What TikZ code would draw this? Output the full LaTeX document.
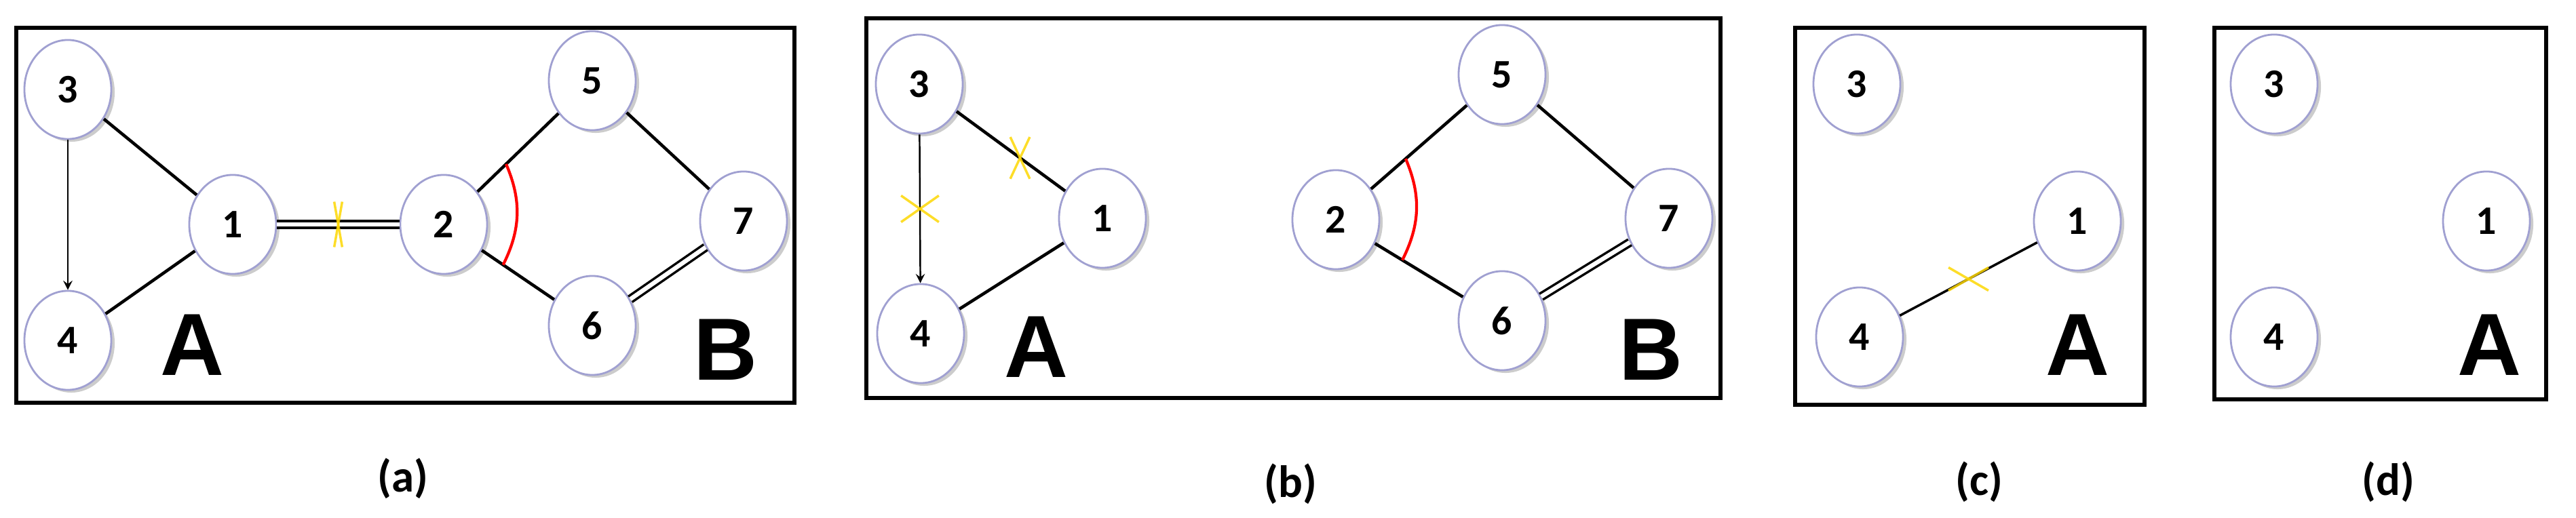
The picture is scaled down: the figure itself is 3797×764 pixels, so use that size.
\documentclass[tikz,border=0pt]{standalone}
\usepackage{fontspec}
\setmainfont{Carlito}
\newfontfamily\grpfont{Liberation Sans}
\usetikzlibrary{shadows,calc,shapes.geometric}

\tikzset{
    vtx/.style={ellipse, draw=blue!35!gray!55, line width=0.8pt, fill=white,
        minimum width=1.28cm, minimum height=1.46cm, inner sep=0pt,
        font=\bfseries\fontsize{17}{17}\selectfont,
        drop shadow={shadow xshift=0.05cm, shadow yshift=-0.04cm, opacity=0.4}},
    edge/.style={line width=1.3pt, black},
    bond/.style={line width=1pt, black, double, double distance=1.8pt},
    panel/.style={line width=1.6pt, black},
    grp/.style={font=\grpfont\bfseries\fontsize{37}{37}\selectfont},
    sublabel/.style={font=\rmfamily\bfseries\fontsize{19}{19}\selectfont},
    arc/.style={red, line width=1.2pt},
    cut/.style={yellow!75!orange, line width=1pt, opacity=0.85}
}
\newcommand{\cutmark}[2]{% position, spread angle
    \draw[cut] ($(#1)+(90-#2:34)$) -- ($(#1)+(270-#2:34)$);
    \draw[cut] ($(#1)+(90+#2:34)$) -- ($(#1)+(270+#2:34)$);
}

\begin{document}
\begin{tikzpicture}[x=0.01cm, y=-0.01cm]
    \useasboundingbox (0,0) rectangle (3797,764);

    % Panel (a)
    \draw[panel] (24,41) rectangle (1171,594);
    \node[vtx] (a3) at (100,132) {3};
    \node[vtx] (a1) at (343,331) {1};
    \node[vtx] (a4) at (100,502) {4};
    \node[vtx] (a2) at (654,331) {2};
    \node[vtx] (a5) at (873,119) {5};
    \node[vtx] (a7) at (1096,326) {7};
    \node[vtx] (a6) at (873,480) {6};
    \node[grp] (aA) at (283,509) {A};
    \node[grp] (aB) at (1069,516) {B};
    \node[sublabel] (acap) at (594,706) {(a)};
    \draw[edge] (a3) -- (a1);
    \draw[edge] (a1) -- (a4);
    \draw[->, >=stealth, line width=0.7pt] (a3) -- (a4);
    \draw[bond] (a1) -- (a2);
    \draw[edge] (a2) -- (a5);
    \draw[edge] (a5) -- (a7);
    \draw[edge] (a2) -- (a6);
    \draw[bond] (a6) -- (a7);
    \coordinate (acut) at ($(a1)!0.5!(a2)$);
    \cutmark{acut}{10}
    \draw[arc] ($(a2)!0.42!(a5)$) to[bend left=25] ($(a2)!0.4!(a6)$);

    % Panel (b)
    \draw[panel] (1277,27) rectangle (2536,587);
    \node[vtx] (b3) at (1355,124) {3};
    \node[vtx] (b1) at (1625,322) {1};
    \node[vtx] (b4) at (1357,492) {4};
    \node[vtx] (b2) at (1969,324) {2};
    \node[vtx] (b5) at (2214,110) {5};
    \node[vtx] (b7) at (2460,322) {7};
    \node[vtx] (b6) at (2214,473) {6};
    \node[grp] (bA) at (1527,512) {A};
    \node[grp] (bB) at (2433,516) {B};
    \node[sublabel] (bcap) at (1902,714) {(b)};
    \draw[edge] (b3) -- (b1);
    \draw[edge] (b1) -- (b4);
    \draw[->, >=stealth, line width=0.7pt] (b3) -- (b4);
    \draw[edge] (b2) -- (b5);
    \draw[edge] (b5) -- (b7);
    \draw[edge] (b2) -- (b6);
    \draw[bond] (b6) -- (b7);
    \coordinate (bcut1) at ($(b3)!0.5!(b4)$);
    \coordinate (bcut2) at ($(b3)!0.55!(b1)$);
    \cutmark{bcut1}{55}
    \cutmark{bcut2}{25}
    \draw[arc] ($(b2)!0.42!(b5)$) to[bend left=25] ($(b2)!0.4!(b6)$);

    % Panel (c)
    \draw[panel] (2646,41) rectangle (3161,597);
    \node[vtx] (c3) at (2737,124) {3};
    \node[vtx] (c1) at (3062,326) {1};
    \node[vtx] (c4) at (2741,497) {4};
    \node[grp] (cA) at (3062,509) {A};
    \node[sublabel] (ccap) at (2917,711) {(c)};
    \draw[edge, line width=1pt] (c4) -- (c1);
    \coordinate (ccut) at ($(c4)!0.5!(c1)$);
    \cutmark{ccut}{60}

    % Panel (d)
    \draw[panel] (3264,41) rectangle (3753,589);
    \node[vtx] (d3) at (3352,124) {3};
    \node[vtx] (d1) at (3665,326) {1};
    \node[vtx] (d4) at (3352,497) {4};
    \node[grp] (dA) at (3669,509) {A};
    \node[sublabel] (dcap) at (3520,711) {(d)};
\end{tikzpicture}
\end{document}
